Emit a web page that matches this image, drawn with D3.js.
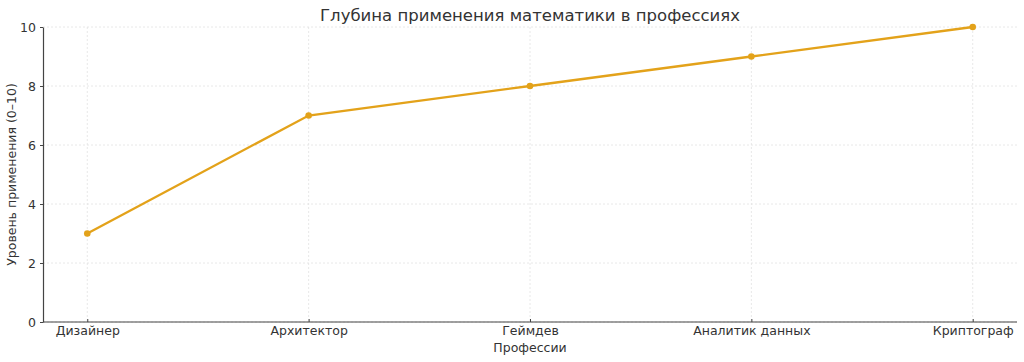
<!DOCTYPE html>
<html>
<head>
<meta charset="utf-8">
<script src="https://cdn.jsdelivr.net/npm/d3@7"></script>
<style>
  body { margin: 0; background: #fff; }
  text { font-family: "DejaVu Sans", sans-serif; fill: #333; }
  .grid line { stroke: #e2e2e2; stroke-dasharray: 2,2; stroke-width: 0.8; }
  .axis path, .axis line { stroke: #444; }
</style>
</head>
<body>
<div id="chart"></div>
<script>
// data
var professions = ["Дизайнер", "Архитектор", "Геймдев", "Аналитик данных", "Криптограф"];
var levels = [3, 7, 8, 9, 10];
var yTicks = [0, 2, 4, 6, 8, 10];

var width = 1024,
    height = 362;
var margin = { top: 27, right: 7, bottom: 40, left: 43 };

var svg = d3.select("#chart")
    .append("svg")
    .attr("width", width)
    .attr("height", height);

var x = d3.scalePoint()
    .domain(professions)
    .range([margin.left, width - margin.right])
    .padding(0.2);

var y = d3.scaleLinear()
    .domain([0, 10])
    .range([height - margin.bottom, margin.top]);

// grid
var grid = svg.append("g").attr("class", "grid");
grid.selectAll(".h")
    .data(yTicks)
    .enter().append("line")
    .attr("x1", margin.left)
    .attr("x2", width - margin.right)
    .attr("y1", function (d) { return y(d); })
    .attr("y2", function (d) { return y(d); });
grid.selectAll(".v")
    .data(professions)
    .enter().append("line")
    .attr("x1", function (d) { return x(d); })
    .attr("x2", function (d) { return x(d); })
    .attr("y1", margin.top)
    .attr("y2", height - margin.bottom);

// axes
svg.append("g")
    .attr("class", "axis")
    .attr("transform", "translate(0," + (height - margin.bottom) + ")")
    .call(d3.axisBottom(x).tickSizeInner(-3).tickSizeOuter(0).tickPadding(4))
    .call(function (g) {
        g.select(".domain").attr("d", "M" + margin.left + ",0H" + (width - margin.right)).attr("stroke-width", 1.2);
        g.selectAll("text").attr("font-size", 12.5);
    });

svg.append("g")
    .attr("class", "axis")
    .attr("transform", "translate(" + margin.left + ",0)")
    .call(d3.axisLeft(y).tickValues(yTicks).tickSizeInner(3).tickSizeOuter(0).tickPadding(4))
    .call(function (g) {
        g.select(".domain").attr("stroke-width", 1.2);
        g.selectAll("text").attr("font-size", 12.5);
    });

// line
var data = professions.map(function (p, i) { return { name: p, value: levels[i] }; });
var line = d3.line()
    .x(function (d) { return x(d.name); })
    .y(function (d) { return y(d.value); });

svg.append("path")
    .datum(data)
    .attr("d", line)
    .attr("fill", "none")
    .attr("stroke", "#e3a21a")
    .attr("stroke-width", 2.3);

svg.selectAll(".dot")
    .data(data)
    .enter().append("circle")
    .attr("cx", function (d) { return x(d.name); })
    .attr("cy", function (d) { return y(d.value); })
    .attr("r", 3.3)
    .attr("fill", "#e3a21a");

// labels
svg.append("text")
    .attr("x", (margin.left + width - margin.right) / 2)
    .attr("y", 21)
    .attr("text-anchor", "middle")
    .attr("font-size", 16.5)
    .text("Глубина применения математики в профессиях");

svg.append("text")
    .attr("x", (margin.left + width - margin.right) / 2)
    .attr("y", 352)
    .attr("text-anchor", "middle")
    .attr("font-size", 12.5)
    .text("Профессии");

svg.append("text")
    .attr("transform", "translate(16," + ((margin.top + height - margin.bottom) / 2) + ") rotate(-90)")
    .attr("text-anchor", "middle")
    .attr("font-size", 12.5)
    .text("Уровень применения (0–10)");
</script>
</body>
</html>
